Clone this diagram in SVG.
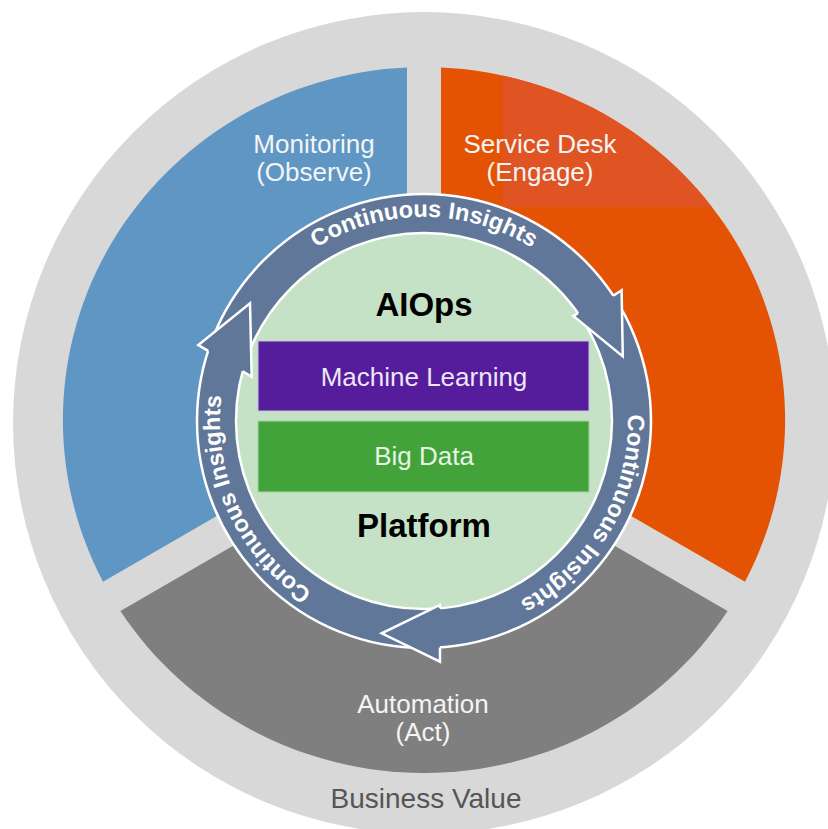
<svg xmlns="http://www.w3.org/2000/svg" width="828" height="829" viewBox="0 0 828 829">
<style>
.lbl{font-family:"Liberation Sans",Arial,sans-serif;font-size:26px;fill:#f4f4f4;text-anchor:middle}
.big{font-family:"Liberation Sans",Arial,sans-serif;font-size:33px;font-weight:bold;fill:#000;text-anchor:middle}
.ring{font-family:"Liberation Sans",Arial,sans-serif;font-size:23.5px;font-weight:bold;fill:#fff;text-anchor:middle}
.head{fill:#61779a}
.edge{fill:none;stroke:#fff;stroke-width:2.5;stroke-linejoin:miter}
</style>
<defs>
<path id="tp" d="M247.3 319 A204 204 0 0 1 600.7 319 A204 204 0 0 1 424 625 A204 204 0 0 1 247.3 319"/>
<clipPath id="oc"><path d="M441 406.2 L441 67.4 A361 353 0 0 1 745 581.7 Z"/></clipPath>
</defs>
<rect width="828" height="829" fill="#fff"/>
<circle cx="424" cy="423" r="411" fill="#d8d8d8"/>
<g id="monitoring">
<path d="M407 406.2 L103 581.7 A361 353 0 0 1 407 67.4 Z" fill="#6096c4"/>
<text class="lbl" x="314" y="153">Monitoring</text>
<text class="lbl" x="314" y="181">(Observe)</text>
</g>
<g id="servicedesk">
<path d="M441 406.2 L441 67.4 A361 353 0 0 1 745 581.7 Z" fill="#e45304"/>
<rect x="503" y="0" width="325" height="207" fill="#e05423" clip-path="url(#oc)"/>
<text class="lbl" x="540" y="153">Service Desk</text>
<text class="lbl" x="540" y="181">(Engage)</text>
</g>
<g id="automation">
<path d="M424 435.6 L727.6 610.9 A361 353 0 0 1 120.4 610.9 Z" fill="#7f7f7f"/>
<text class="lbl" x="423" y="713">Automation</text>
<text class="lbl" x="423" y="741">(Act)</text>
</g>
<text x="426" y="808" font-family="Liberation Sans, Arial, sans-serif" font-size="28" fill="#555" text-anchor="middle">Business Value</text>
<g id="connectors">
<circle cx="424" cy="421" r="227" fill="#61779a" stroke="#fff" stroke-width="2.5"/>
<circle cx="424" cy="421" r="188" fill="#c5e1c6" stroke="#fff" stroke-width="2.5"/>
<polygon class="head" points="621.6,290.2 622.8,356.4 573.3,316 578,313.2 613.3,295.7"/>
<polyline class="edge" points="613.3,295.7 621.6,290.2 622.8,356.4 573.3,316 578,313.2"/>
<polygon class="head" points="440,661.7 381.7,633.3 440,605 440,608.3 440,647.4"/>
<polyline class="edge" points="440,647.4 440,661.7 381.7,633.3 440,605 440,608.3"/>
<polygon class="head" points="198.3,345 250,303.3 251.7,376.7 242.7,371.3 208.2,350.9"/>
<polyline class="edge" points="208.2,350.9 198.3,345 250,303.3 251.7,376.7 242.7,371.3"/>
<text class="ring"><textPath href="#tp" startOffset="213.6">Continuous Insights</textPath></text>
<text class="ring"><textPath href="#tp" startOffset="640.9">Continuous Insights</textPath></text>
<text class="ring"><textPath href="#tp" startOffset="1086">Continuous Insights</textPath></text>
</g>
<g id="aiops">
<text class="big" x="424" y="316">AIOps</text>
</g>
<g id="machinelearning">
<rect x="258" y="341" width="331" height="70" fill="#551c9b" stroke="#c9c0e0" stroke-width="1"/>
<text class="lbl" x="424" y="386" fill="#ece6f8" style="fill:#ece6f8">Machine Learning</text>
</g>
<g id="bigdata">
<rect x="258" y="421" width="331" height="71" fill="#43a33b" stroke="#a8d4a0" stroke-width="1"/>
<text class="lbl" x="424" y="465" style="fill:#e6f4e2">Big Data</text>
</g>
<g id="platform">
<text class="big" x="424" y="537">Platform</text>
</g>
</svg>
